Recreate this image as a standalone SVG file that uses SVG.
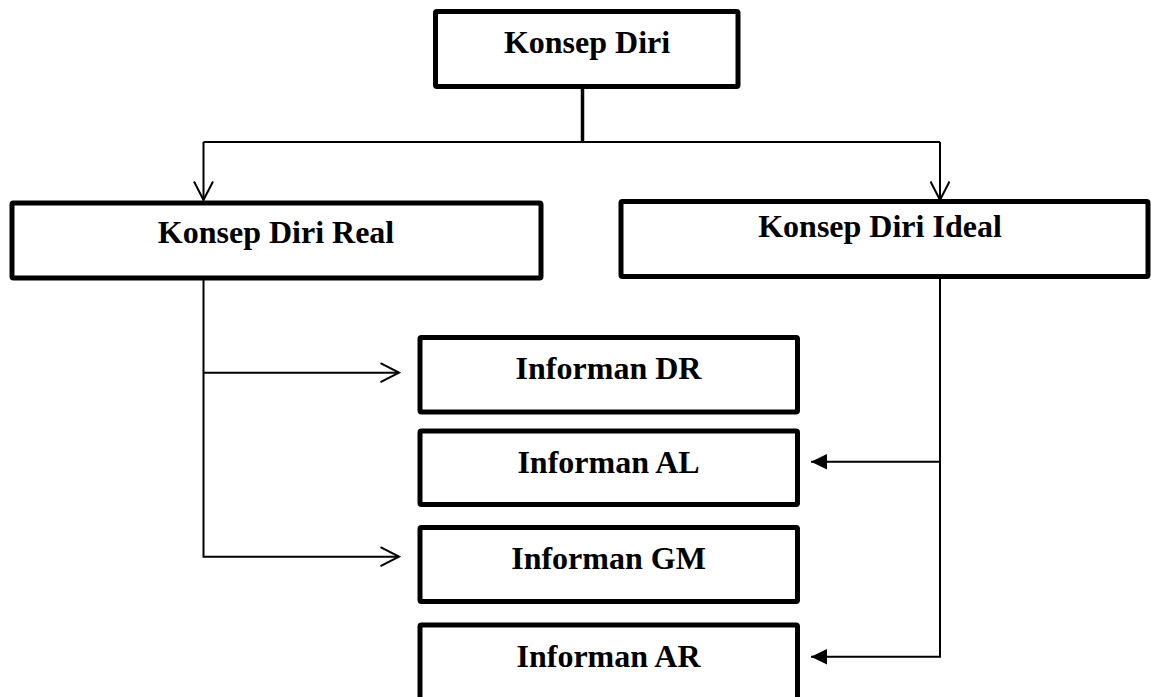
<svg xmlns="http://www.w3.org/2000/svg" width="1151" height="697" viewBox="0 0 1151 697">
  <style>
    .box { fill: #ffffff; stroke: #000000; stroke-width: 5; stroke-linejoin: round; }
    .lbl { font-family: "Liberation Serif", "Times New Roman", serif; font-weight: bold; font-size: 32px; fill: #000000; text-anchor: middle; }
    .con { fill: none; stroke: #000000; stroke-width: 2; }
  </style>
  <defs>
    <marker id="open" markerUnits="userSpaceOnUse" viewBox="0 0 22 22" refX="20" refY="11" markerWidth="22" markerHeight="22" orient="auto">
      <path d="M1.5,1.5 L20,11 L1.5,20.5" fill="none" stroke="#000" stroke-width="2"/>
    </marker>
    <marker id="solid" markerUnits="userSpaceOnUse" viewBox="0 0 16 16" refX="16" refY="8" markerWidth="16" markerHeight="16" orient="auto">
      <path d="M0,0.3 L16,8 L0,15.7 Z" fill="#000"/>
    </marker>
  </defs>

  <g id="connectors">
    <line class="con" x1="582.5" y1="87" x2="582.5" y2="142" style="stroke-width:3.5"/>
    <line class="con" x1="203.5" y1="142" x2="940" y2="142"/>
    <line class="con" x1="203.5" y1="142" x2="203.5" y2="200" marker-end="url(#open)"/>
    <line class="con" x1="940" y1="142" x2="940" y2="200" marker-end="url(#open)"/>
    <path class="con" d="M203.5,278 V556.7 H399" marker-end="url(#open)"/>
    <line class="con" x1="203.5" y1="372.7" x2="399" y2="372.7" marker-end="url(#open)"/>
    <path class="con" d="M940,276.5 V656.7 H811" marker-end="url(#solid)"/>
    <line class="con" x1="940" y1="461.7" x2="811" y2="461.7" marker-end="url(#solid)"/>
  </g>

  <g id="konsep-diri">
    <rect class="box" x="435.5" y="11.5" width="302.5" height="75" rx="1.5"/>
    <text class="lbl" x="587" y="53">Konsep Diri</text>
  </g>
  <g id="konsep-diri-real">
    <rect class="box" x="12" y="203" width="529" height="75" rx="1.5"/>
    <text class="lbl" x="276" y="243">Konsep Diri Real</text>
  </g>
  <g id="konsep-diri-ideal">
    <rect class="box" x="621" y="201.5" width="527" height="75" rx="1.5"/>
    <text class="lbl" x="880" y="237">Konsep Diri Ideal</text>
  </g>
  <g id="informan-dr">
    <rect class="box" x="420" y="337.5" width="377.5" height="74.5" rx="1.5"/>
    <text class="lbl" x="608.5" y="378.5">Informan DR</text>
  </g>
  <g id="informan-al">
    <rect class="box" x="420" y="431" width="377.5" height="73.5" rx="1.5"/>
    <text class="lbl" x="608.5" y="472.5">Informan AL</text>
  </g>
  <g id="informan-gm">
    <rect class="box" x="420" y="527.5" width="377.5" height="74" rx="1.5"/>
    <text class="lbl" x="608.5" y="568.5">Informan GM</text>
  </g>
  <g id="informan-ar">
    <rect class="box" x="420" y="625" width="377.5" height="80" rx="1.5"/>
    <text class="lbl" x="608.5" y="666.5">Informan AR</text>
  </g>
</svg>
